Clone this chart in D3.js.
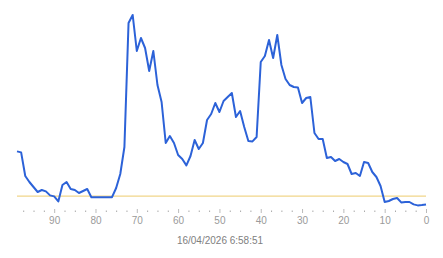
<!DOCTYPE html>
<html>
<head>
<meta charset="utf-8">
<script src="https://cdn.jsdelivr.net/npm/d3@7"></script>
<style>
  body { margin: 0; background: #fff; }
  #chart text { font-family: Arial, "Liberation Sans", sans-serif; }
</style>
</head>
<body>
<div id="chart"></div>
<script>
// minutes ago (99 -> 0) and the reading at each minute
var minutesAgo = d3.range(99, -1, -1);
var readings = [
  29.3, 28.8, 17, 14, 11.5, 9, 10, 9.3, 7.3, 6.8,
  4.3, 12.5, 14, 10.5, 10, 8.5, 9.5, 10.5, 6.4, 6.4,
  6.4, 6.4, 6.4, 6.4, 11, 18, 31.5, 93.5, 97.5, 79.5,
  86, 81, 69.5, 79.5, 62.5, 54, 33.5, 37, 33.5, 27.5,
  25.5, 22.3, 27, 35, 30.5, 33.5, 45, 48, 53.5, 49,
  54.5, 56.5, 58.5, 46.5, 49.5, 41.5, 34.5, 34.3, 36.5, 74,
  77, 85, 76, 87.5, 72.5, 65.5, 62.5, 61.5, 61.3, 53.5,
  56, 56.5, 38.5, 35.5, 35.5, 26, 26.5, 24.5, 25.5, 24,
  23, 18, 18.5, 17, 24, 23.5, 19, 16.5, 12, 4,
  4.5, 5.5, 6, 3.8, 4, 4, 2.8, 2.3, 2.5, 2.8
];
var threshold = 6.9;
var majorTicks = [90, 80, 70, 60, 50, 40, 30, 20, 10, 0];
var minorTicks = d3.range(97.5, 0, -2.5).filter(function(d) { return d % 10 !== 0; });
var stampLabel = "16/04/2026 6:58:51";

var width = 443, height = 258;

var svg = d3.select("#chart")
  .append("svg")
  .attr("width", width)
  .attr("height", height);

var x = d3.scaleLinear()
  .domain([99, 0])
  .range([17, 426]);

var y = d3.scaleLinear()
  .domain([0, 100])
  .range([210, 10]);

// threshold line
svg.append("line")
  .attr("x1", x(99))
  .attr("x2", x(0))
  .attr("y1", y(threshold))
  .attr("y2", y(threshold))
  .attr("stroke", "#f1d68a")
  .attr("stroke-width", 1.2);

// minor ticks (little dots)
var minor = svg.append("g")
  .attr("transform", "translate(0,210.5)")
  .call(d3.axisBottom(x).tickValues(minorTicks).tickSize(1.5).tickFormat(""));
minor.select(".domain").remove();
minor.selectAll("line").attr("stroke", "#aaa");

// major ticks + labels
var axis = svg.append("g")
  .attr("transform", "translate(0,209)")
  .call(d3.axisBottom(x).tickValues(majorTicks).tickSize(4).tickPadding(4));
axis.select(".domain").remove();
axis.selectAll("line").attr("stroke", "#bbb");
axis.selectAll("text")
  .attr("fill", "#9a9a9a")
  .style("font-size", "10px");

// the line itself
var points = minutesAgo.map(function(m, i) { return { m: m, v: readings[i] }; });
svg.append("path")
  .datum(points)
  .attr("fill", "none")
  .attr("stroke", "#2c62d8")
  .attr("stroke-width", 2)
  .attr("stroke-linejoin", "round")
  .attr("d", d3.line()
    .x(function(d) { return x(d.m); })
    .y(function(d) { return y(d.v); }));

// timestamp under axis
svg.append("text")
  .attr("x", 220)
  .attr("y", 243.5)
  .attr("text-anchor", "middle")
  .attr("fill", "#808080")
  .style("font-size", "10px")
  .text(stampLabel);
</script>
</body>
</html>
